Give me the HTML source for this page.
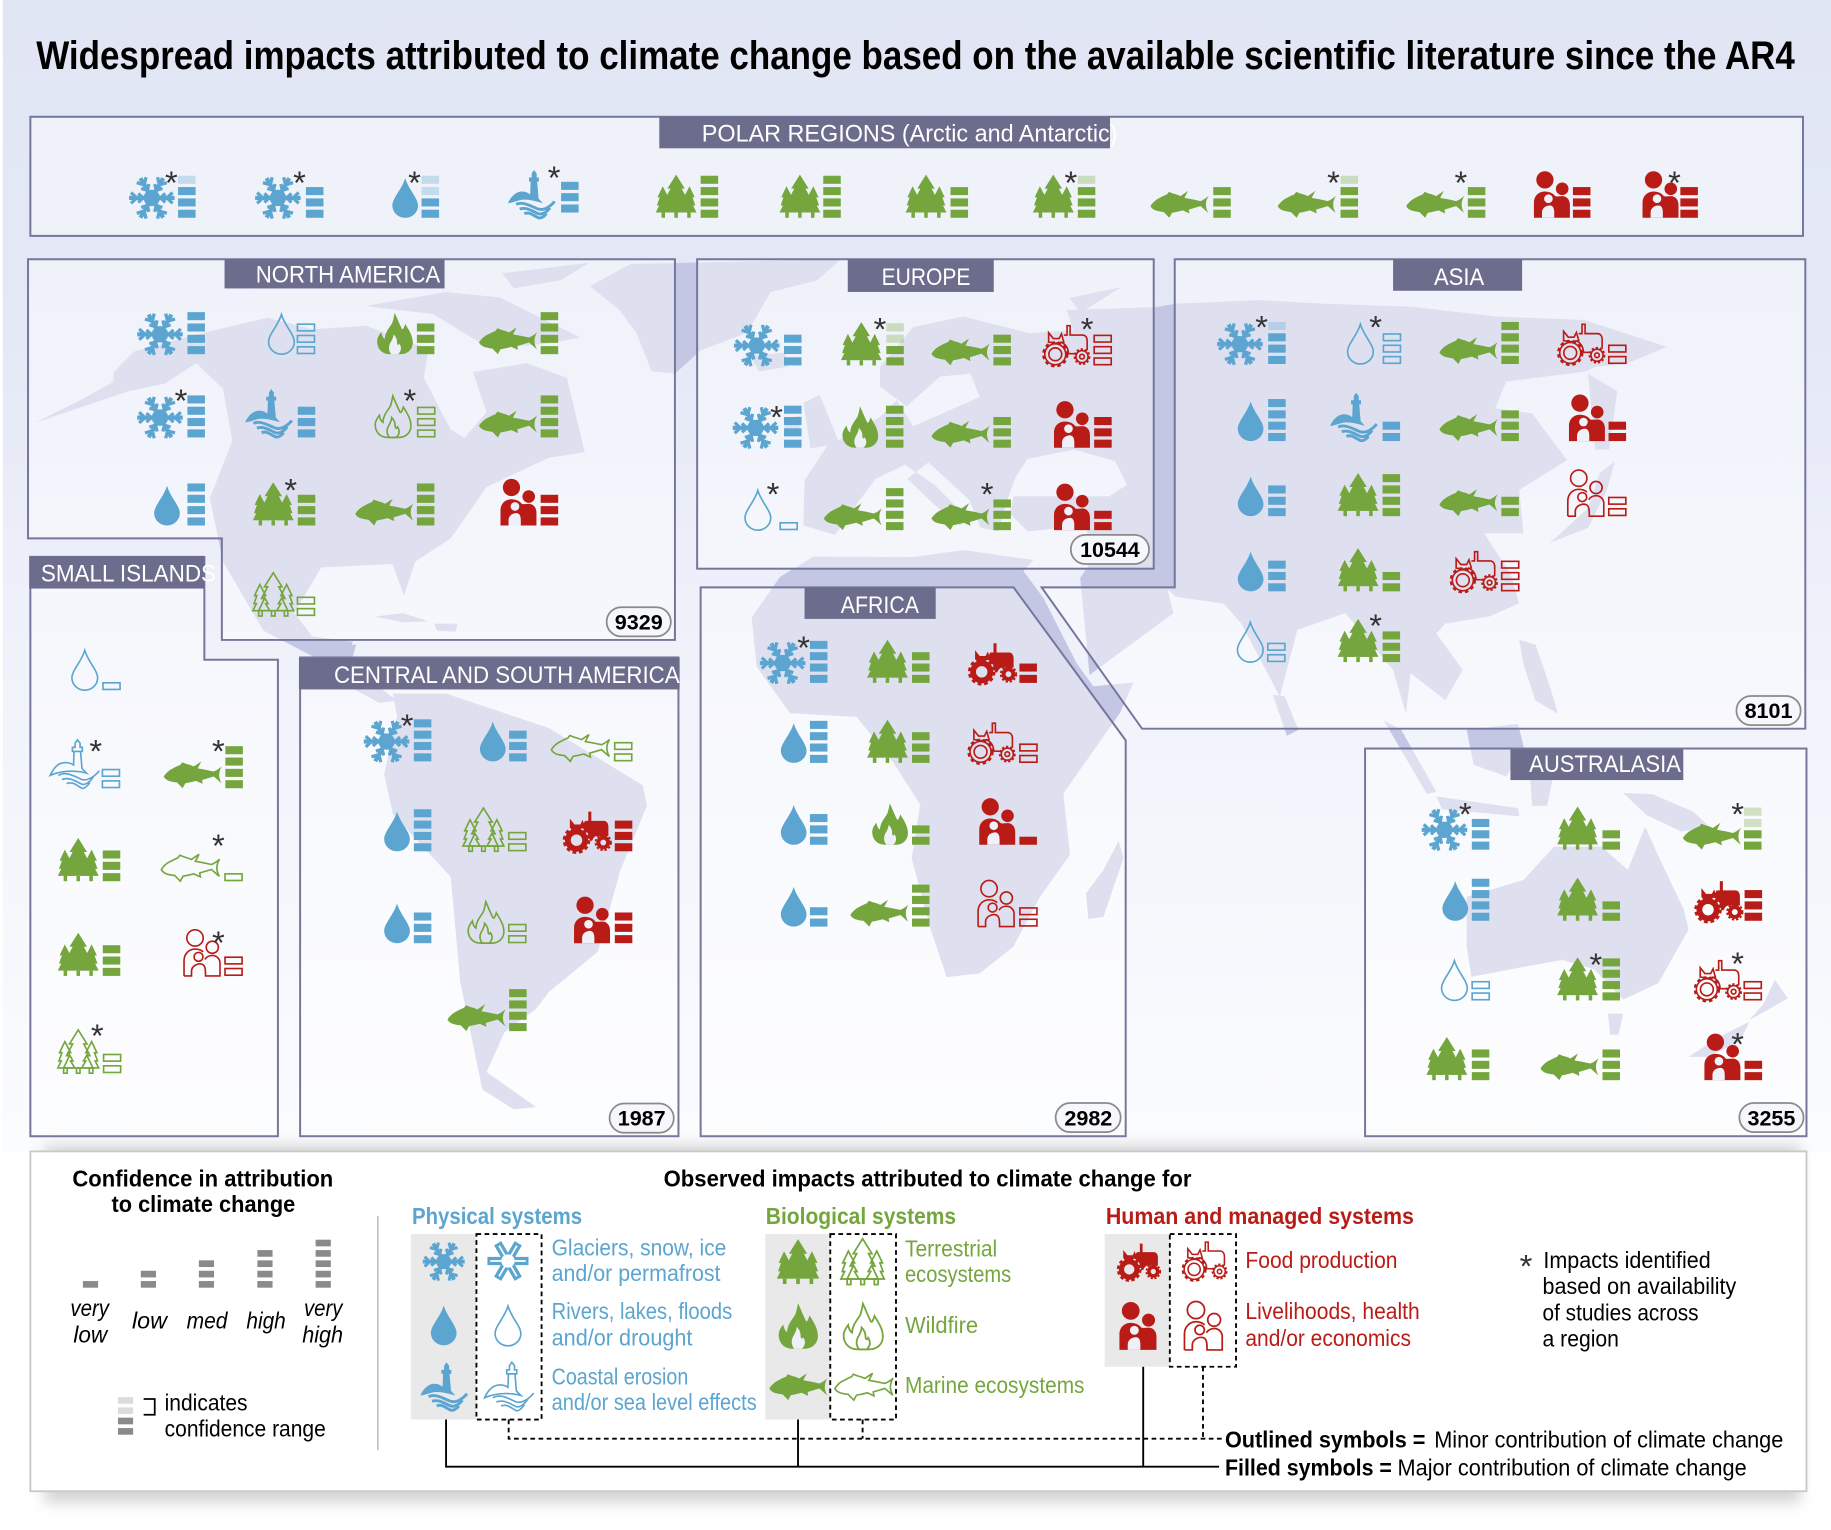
<!DOCTYPE html>
<html lang="en"><head><meta charset="utf-8"><title>Widespread impacts attributed to climate change</title>
<style>
html,body{margin:0;padding:0;background:#fff}
svg{display:block}
text{font-family:"Liberation Sans",Arial,sans-serif}
.b{color:#5ba5d0}.g{color:#74a63d}.r{color:#b91c17}
.f{fill:currentColor;stroke:none}
.o{fill:none;stroke:currentColor;stroke-width:1.4}
.h{fill:#fff;font-size:20.5px}
.s{font-size:28px;fill:#333;text-anchor:middle}
.n{font-size:18px;font-weight:bold;fill:#000}
.t{font-size:20px;fill:#000}
.tb{font-size:20px;font-weight:bold;fill:#000}
.i{font-size:20px;font-style:italic;fill:#000}
</style></head><body>
<svg xmlns="http://www.w3.org/2000/svg" width="1831" height="1530" viewBox="0 0 1568 1310.2" preserveAspectRatio="none">
<defs>
<linearGradient id="bg" x1="0" y1="0" x2="0" y2="1"><stop offset="0" stop-color="#e1e6f4"/><stop offset=".3" stop-color="#e5e9f7"/><stop offset=".6" stop-color="#f1f3fb"/><stop offset="1" stop-color="#fbfcfe"/></linearGradient>
<filter id="bl" x="-5%" y="-20%" width="110%" height="140%"><feGaussianBlur stdDeviation="6"/></filter>
<clipPath id="mc"><rect x="0" y="222" width="1568" height="760"/></clipPath>
<g id="arm"><path d="M0,0V-19.5" stroke-width="3.6" stroke="currentColor" fill="none"/><path d="M-4.6,-17.8L0,-13L4.6,-17.8M-3.8,-11.6L0,-7.5L3.8,-11.6" stroke-width="2.8" stroke="currentColor" fill="none"/></g>
<g id="snow"><g transform="translate(0,-17)"><g transform="rotate(90)"><use href="#arm"/></g><g transform="rotate(30)"><use href="#arm"/></g><g transform="rotate(150)"><use href="#arm"/></g><g transform="rotate(210)"><use href="#arm"/></g><g transform="rotate(270)"><use href="#arm"/></g><g transform="rotate(330)"><use href="#arm"/></g><circle r="7" fill="currentColor"/></g></g>
<g id="snowo"><g transform="translate(0,-17)"><path d="M-18.5,0H18.5M-9.3,-16L9.3,16M-9.3,16L9.3,-16" stroke="currentColor" stroke-width="7.5" fill="none"/><path d="M-16,0H16M-8,-13.8L8,13.8M-8,13.8L8,-13.8" stroke="#fff" stroke-width="1.6" fill="none"/><circle r="6" fill="#fff"/></g></g>
<path id="drop" d="M0,-34C3,-24 11,-17 11,-10.5A11,10.5 0 0 1 -11,-10.5C-11,-17 -3,-24 0,-34Z"/>
<g id="tree"><polygon points="0,-37 7.5,-25 4.8,-25 10,-15 7.5,-15 12.5,-4.5 -12.5,-4.5 -7.5,-15 -10,-15 -4.8,-25 -7.5,-25"/><polygon points="-11.5,-27 -6.5,-17.5 -8.5,-17.5 -4.5,-10.5 -6.5,-10.5 -3,-4.5 -17.5,-4.5 -14.5,-10.5 -16.5,-10.5 -14,-17.5 -16,-17.5"/><polygon points="11.5,-27 16,-17.5 14,-17.5 16.5,-10.5 14.5,-10.5 17.5,-4.5 3,-4.5 6.5,-10.5 4.5,-10.5 8.5,-17.5 6.5,-17.5"/><rect x="-12.5" y="-4.5" width="3" height="4.5"/><rect x="-1.5" y="-4.5" width="3" height="4.5"/><rect x="9.5" y="-4.5" width="3" height="4.5"/></g>
<path id="fish" d="M-24.8,-10C-23,-13 -20,-15.5 -17.7,-16.6C-15,-18 -12.5,-19.3 -10.6,-20L-9,-22.2 -4.9,-20.6C-2,-20 -.5,-19.2 .9,-18.6L7.4,-23 4.3,-17C9,-16.2 14,-15.2 18,-14.3C20.5,-15.2 23,-17 25,-18.8C22,-14 22,-9 24.8,-4.2C22.5,-6 20,-8.5 18,-10C14.5,-9 11.5,-8 8,-7L8.6,-3.7 2.9,-6.3C-.5,-5.3 -3.5,-4.7 -6.3,-4.3L-8.6,0 -13.4,-4.9C-16,-5.2 -18.5,-5.6 -20.5,-6.3C-22.5,-7.2 -24,-8.3 -24.8,-10Z"/>
<g id="lh"><path fill="currentColor" stroke="none" d="M-20,-13C-17,-20 -12,-23 -8,-23C-4.5,-23 -2.5,-21.5 -1,-20.5L-.6,-31.5H-2V-35H.3V-38.5L2.3,-41.4 4.6,-38.5V-35H6.5V-31.5H5L6.2,-17C7.5,-15.5 9,-14.2 10,-13C3,-15 -5,-17 -10,-15.5C-14,-14.5 -17,-13 -20,-13Z"/><path fill="none" stroke="currentColor" stroke-width="2.5" d="M-13,-12C-7,-15 0,-10 6,-8C11,-6.5 16,-10 20,-14.5M-10,-8C-4,-10 1,-6 6,-4C9,-3 13,-5 16,-9M-6,-4C-1,-6 2,-2 6,-.5C8,.3 11,-1.5 13,-4"/></g>
<g id="lho" fill="none" stroke="currentColor" stroke-width="1.4"><path d="M-21,-11C-17,-20 -12,-22 -8,-22C-4.5,-22 -2.5,-21 -1,-20L-.6,-31.5H-2V-35H.3V-38.5L2.3,-41.4 4.6,-38.5V-35H6.5V-31.5H5L6.2,-17C7.5,-15.5 9,-14 10,-13C3,-15 -10,-16 -21,-11ZM-2,-31.5H6.5"/><path d="M-14,-11C-7,-15 0,-10 6,-7.5C11,-6 17,-10 21,-15M-11,-7.5C-4,-10 1,-5.5 6,-3.5C9,-2.5 13,-5 16,-10M-7,-4C-1,-6 2,-2 6,0C8,.8 11,-2 13,-5"/></g>
<g id="pf"><circle cx="-6" cy="-32.5" r="7.4" fill="currentColor"/><circle cx="8.8" cy="-24.8" r="5.4" fill="currentColor"/><path fill="currentColor" d="M-15.4,0V-13C-15.4,-19 -11,-22.5 -6,-22.5C-2,-22.5 1,-21 3,-18.4C5,-18 7,-18.5 9,-18.5C13,-18.5 15.4,-15 15.4,-11V0Z"/><circle cx="-3" cy="-16.3" r="3.7" fill="#eef1fa"/><path fill="#eef1fa" d="M-8.5,0V-4.5C-8.5,-9 -4,-11 -1,-10.5C1.5,-10 2,-7 2,-4V0Z"/></g>
<g id="po" fill="none" stroke="currentColor" stroke-width="1.4"><circle cx="-6" cy="-32.5" r="7"/><circle cx="8.8" cy="-24.5" r="5.2"/><circle cx="-3" cy="-16.3" r="3.8"/><path d="M-15.4,0H-9V-4C-9,-9 -3,-11 0,-10C3,-9 3,-5 3,0H15.4V-11C15.4,-15 12,-17.5 9,-17.5C6,-17.5 3.5,-16 2.5,-14M-15.4,0V-13C-15.4,-19 -11,-23 -6,-23C-3,-23 -.5,-22 1,-20.5"/></g>
<g id="tf"><circle cx="-8.3" cy="-9.5" r="7.4" fill="none" stroke="currentColor" stroke-width="5"/><circle cx="-8.3" cy="-9.5" r="10.6" fill="none" stroke="currentColor" stroke-width="2.4" stroke-dasharray="3.2 2.4"/><circle cx="14.6" cy="-7.5" r="4.2" fill="none" stroke="currentColor" stroke-width="3.4"/><circle cx="14.6" cy="-7.5" r="6.6" fill="none" stroke="currentColor" stroke-width="1.6" stroke-dasharray="2 1.6"/><path fill="currentColor" d="M-1,-26H1.8V-34H4.4V-26H15C17.5,-26 19,-24 19,-21V-13H9C7,-13 6,-11 5,-9H3C3,-14 0,-19 -4,-20ZM-14,-28L-10,-23H-5L-3,-27 -1,-20 -8,-19 -14,-20Z"/></g>
<g id="to" fill="none" stroke="currentColor" stroke-width="1.4"><circle cx="-8.3" cy="-9.5" r="5.5"/><circle cx="-8.3" cy="-9.5" r="9"/><circle cx="-8.3" cy="-9.5" r="10.3" stroke-width="2" stroke-dasharray="3 2.6"/><circle cx="14.6" cy="-7.5" r="2"/><circle cx="14.6" cy="-7.5" r="5.2"/><circle cx="14.6" cy="-7.5" r="6.4" stroke-width="1.6" stroke-dasharray="2 1.6"/><path d="M-1,-26H1.8V-34H4.4V-26H15C17.5,-26 19,-24 19,-21V-13M3,-10H8M-4,-20C0,-19 3,-15 3,-10M-14,-28L-10,-23H-5L-3,-27 -1,-20 -8,-19 -14,-20Z"/></g>
<path id="flo" d="M-4,0C-12,0 -15.5,-6 -15,-12C-14.5,-15 -13,-17 -11.5,-19C-11,-16 -10,-14 -8.5,-13C-8,-20 -4,-23 -2,-27C-1,-30 -.5,-33 0,-35.5C2,-31 4,-26 6,-22C7,-20 8,-23 9,-26C12,-21 15.5,-16 15.5,-10C15.5,-4 11,0 5,0Z"/>
<path id="fli" d="M-3,0C-6,-4 -5,-8 -3,-11C-2,-13 -1,-15 -1,-17C1,-15 2,-13 2,-10C2,-8 3,-7 4,-9C6,-6 6,-3 3,0Z"/>
<g id="fl"><use href="#flo" fill="currentColor"/><use href="#fli" fill="#eef1fa"/></g>
<g id="flx" fill="none" stroke="currentColor" stroke-width="1.4"><use href="#flo"/><use href="#fli"/></g>
<g id="f1"><rect y="-6.9" width="15" height="6.9"/></g>
<g id="f2"><use href="#f1"/><rect y="-16.6" width="15" height="6.9"/></g>
<g id="f3"><use href="#f2"/><rect y="-26.3" width="15" height="6.9"/></g>
<g id="f4"><use href="#f3"/><rect y="-36" width="15" height="6.9"/></g>
<g id="f41"><use href="#f3"/><rect y="-36" width="15" height="6.9" fill-opacity=".3"/></g>
<g id="f42"><use href="#f2"/><rect y="-26.3" width="15" height="6.9" fill-opacity=".3"/><rect y="-36" width="15" height="6.9" fill-opacity=".3"/></g>
<g id="o1"><rect x=".7" y="-6.3" width="14.6" height="5.7"/></g>
<g id="o2"><use href="#o1"/><rect x=".7" y="-16" width="14.6" height="5.7"/></g>
<g id="o3"><use href="#o2"/><rect x=".7" y="-25.7" width="14.6" height="5.7"/></g>
<g id="gb"><rect width="13" height="5.7"/></g>
</defs>

<rect width="1568" height="1310.2" fill="#fff"/>
<rect x="2.4" y="0" width="1565.6" height="986" fill="url(#bg)"/>

<!-- map -->
<g clip-path="url(#mc)" fill="#c3c7e4">
<polygon points="97.5,318.6 114.7,301 168,286.6 229,272 268,282 313.5,279 367,299 363,323.5 386,368 397.6,375 416.7,353 405,318.6 451,311 485.5,323.5 500.8,387.4 470,392 416.7,417 386,461 355.5,481 346,510 336,483 275,486 252,525 267.6,545 302,549.6 298,564 267.6,562 225.5,540 191,481 179.7,426.7 198.8,377.6 191,333 168,311 141.5,328.4 110,335 60,352 30,362 70,342 97,327"/>
<polygon points="313,262 382,250 428,254.7 497,289 470,294 420,299 371,269"/>
<polygon points="505,245 540,226 720,222 700,240 660,250 640,285 600,300 578,320 558,318 545,285 530,265"/>
<polygon points="430,234 505,225 480,240 440,247"/>
<polygon points="321,528 345,525 367,532 345,533"/><polygon points="372,534 392,534 390,541 374,540"/>
<polygon points="336.4,594 382,594 470,623.4 550.5,672.5 554,690 531,746 512,815 470,849.5 459,864 432,884 416.7,918 459,948 440,950 413,933 394,840 386,751 336.4,697 329,663 340,613.5"/>
<polygon points="267,555 305,552 300,570 340,600 325,602 270,572"/>
<polygon points="689,411 688,450 715,458 735,430 750,410 775,398 800,415 830,445 822,450 800,432 777,410 795,396 830,428 840,452 855,455 862,430 870,408 880,393 920,385 955,395 965,415 950,425 900,425 868,425 865,440 880,455 930,450 935,480 925,495 933,578 1005,525 1000,505 1007,511 1048,517 1063,534 1096,596.6 1111,539.5 1152,525 1193,573.8 1204,611 1208,576.6 1237.7,599.5 1252.6,573.8 1230,542.4 1237.7,534 1275,528 1301,516.7 1293.5,491 1271,456.7 1304.6,456.7 1301,419.6 1342,394 1312,354 1280.5,349.7 1289.8,326.8 1356.7,318.3 1367.8,314 1394,311 1427.4,297 1356.7,274 1282,271 1208,262.6 1133.6,260 1077.8,257 1007,260 990,263 913.5,265.5 919,282.6 882,285.4 825,271 782,280 753.6,314 753.6,331 776.4,348 805,322.5 831,320 839,340 782,365 768,342.5 753.6,357 708,382.5"/>
<polygon points="688,345 702,338 719,380 694,384"/><polygon points="672,358 686,356 684,372 672,372"/>
<polygon points="916,255 960,246 925,268"/><polygon points="642,305 672,302 675,314 650,318"/><polygon points="780,232 815,228 810,240 785,240"/>
<polygon points="1360,320 1385,335 1378,385 1366,385"/><polygon points="1383,395 1376,420 1360,452 1327,465 1335,458 1360,435 1370,405"/>
<polygon points="1301,548 1315,552 1328,590 1334,611 1315,600 1305,570"/><polygon points="1090,595 1100,596 1112,625 1102,630"/>
<polygon points="1185,617 1200,625 1230,678 1222,680"/><polygon points="1256,625 1300,620 1305,640 1290,665 1262,655"/><polygon points="1230,682 1300,692 1301,699 1235,693"/><polygon points="1310,660 1330,665 1325,690 1312,690"/>
<polygon points="1390,679 1415,680 1450,695 1464,708 1440,712 1410,698"/>
<polygon points="1256,768 1304.6,753.6 1330.7,725 1371.6,725 1394,745 1408.8,708 1421.8,736.5 1442,779 1446,796 1420,842 1390,856 1365,830 1338,822 1304.6,828 1260,836.4 1256,810.7"/>
<polygon points="1377,868 1390,868 1386,886 1379,886"/>
<polygon points="1520,839 1531,855 1498,873.6 1510,860"/><polygon points="1446,905 1472,888 1498,875 1490,892 1462,905"/>
<polygon points="643.7,528.8 648,571 676.5,610.7 733.6,614 765,653 788,689 780.7,735 796.4,794 810.7,836.8 839,833.5 867.8,810.6 890.6,768 916.3,732 910.6,679.5 959,610.7 970.6,584.5 936.3,587.7 922,568 893.5,512 876.4,489 885,479.6 825,471 782,477 696.5,476.7 668,494"/>
<polygon points="958,720 962,735 945,785 932,787 930,765 945,745"/>
</g>

<!-- panels -->
<g fill="#fff" fill-opacity=".45" stroke="#75769b" stroke-width="1.7">
<rect x="26" y="100" width="1518" height="102"/>
<path d="M24,222H578V548H190V461H24Z"/>
<path d="M26,477H175V565H238V973H26Z"/>
<rect x="257" y="563" width="324" height="410"/>
<rect x="597" y="222" width="391" height="265"/>
<path d="M1006,222H1546V624H978L892,503H1006Z"/>
<path d="M600,503H868L964,634V973H600Z"/>
<rect x="1169" y="641" width="378" height="332"/>
</g>
<!-- headers -->
<g fill="#6c6c8c">
<rect x="564.6" y="100" width="386" height="27"/>
<rect x="192.3" y="222" width="188.4" height="25"/>
<rect x="25" y="476" width="150" height="28"/>
<rect x="256" y="563.4" width="326" height="27"/>
<rect x="726" y="222" width="125" height="28"/>
<rect x="689" y="503" width="112.3" height="27"/>
<rect x="1193" y="222" width="110.5" height="27"/>
<rect x="1293.5" y="641.7" width="148" height="26.3"/>
</g>
<text class="h" x="601" y="121" textLength="356" lengthAdjust="spacingAndGlyphs">POLAR REGIONS (Arctic and Antarctic)</text>
<text class="h" x="219" y="242" textLength="158" lengthAdjust="spacingAndGlyphs">NORTH AMERICA</text>
<text class="h" x="35" y="498" textLength="150" lengthAdjust="spacingAndGlyphs">SMALL ISLANDS</text>
<text class="h" x="286" y="585" textLength="296" lengthAdjust="spacingAndGlyphs">CENTRAL AND SOUTH AMERICA</text>
<text class="h" x="755" y="244" textLength="76" lengthAdjust="spacingAndGlyphs">EUROPE</text>
<text class="h" x="720" y="525" textLength="67" lengthAdjust="spacingAndGlyphs">AFRICA</text>
<text class="h" x="1228" y="244" textLength="43" lengthAdjust="spacingAndGlyphs">ASIA</text>
<text class="h" x="1309.5" y="661" textLength="130" lengthAdjust="spacingAndGlyphs">AUSTRALASIA</text>

<!-- count pills -->
<g fill="#f6f7fc" stroke="#8a8a8a" stroke-width="1.5">
<rect x="519.5" y="520" width="55" height="25" rx="12.5"/>
<rect x="917" y="458" width="67" height="25" rx="12.5"/>
<rect x="1487" y="596" width="55" height="25" rx="12.5"/>
<rect x="522" y="945" width="55" height="25" rx="12.5"/>
<rect x="904" y="944.5" width="55.7" height="25" rx="12.5"/>
<rect x="1489.5" y="944.5" width="55" height="25" rx="12.5"/>
</g>
<text class="n" x="526.5" y="539" textLength="41" lengthAdjust="spacingAndGlyphs">9329</text>
<text class="n" x="925" y="477" textLength="51" lengthAdjust="spacingAndGlyphs">10544</text>
<text class="n" x="1494" y="615" textLength="41" lengthAdjust="spacingAndGlyphs">8101</text>
<text class="n" x="529" y="964" textLength="41" lengthAdjust="spacingAndGlyphs">1987</text>
<text class="n" x="911.5" y="964" textLength="41" lengthAdjust="spacingAndGlyphs">2982</text>
<text class="n" x="1496.5" y="964" textLength="41" lengthAdjust="spacingAndGlyphs">3255</text>

<!-- title -->
<text x="31" y="59" font-size="34" font-weight="bold" fill="#000" textLength="1506" lengthAdjust="spacingAndGlyphs">Widespread impacts attributed to climate change based on the available scientific literature since the AR4</text>

<!-- blue icons and bars -->
<g class="b">
<g class="f">
<use href="#snow" x="130" y="186.5"/><use href="#f41" x="152.5" y="186.5"/>
<use href="#snow" x="238" y="186.5"/><use href="#f3" x="262" y="186.5"/>
<use href="#drop" x="347" y="186.5"/><use href="#f42" x="361" y="186.5"/>
<use href="#lh" x="455" y="187"/><use href="#f3" x="480.5" y="182"/>
<use href="#snow" x="137" y="303.3"/><use href="#f4" x="160.5" y="303.3"/>
<use href="#snow" x="137" y="374.6"/><use href="#f4" x="160.5" y="374.6"/>
<use href="#lh" x="230" y="374.6"/><use href="#f3" x="255" y="374.6"/>
<use href="#drop" x="143" y="450"/><use href="#f4" x="160.5" y="450"/>
<use href="#snow" x="331" y="652"/><use href="#f4" x="354.4" y="652"/>
<use href="#drop" x="422" y="652"/><use href="#f3" x="436" y="652"/>
<use href="#drop" x="340" y="729"/><use href="#f4" x="354.4" y="729"/>
<use href="#drop" x="340" y="807.7"/><use href="#f3" x="354.4" y="807.7"/>
<use href="#snow" x="648" y="312.9"/><use href="#f3" x="671.4" y="312.9"/>
<use href="#snow" x="647" y="383.4"/><use href="#f4" x="671.4" y="383.4"/>
<use href="#snow" x="1061.8" y="311.7"/><use href="#f41" x="1086" y="311.7"/>
<use href="#drop" x="1071" y="377.7"/><use href="#f4" x="1086" y="377.7"/>
<use href="#lh" x="1159" y="377.7"/><use href="#f2" x="1184" y="377.7"/>
<use href="#drop" x="1071" y="442"/><use href="#f3" x="1086" y="442"/>
<use href="#drop" x="1071" y="506.4"/><use href="#f3" x="1086" y="506.4"/>
<use href="#snow" x="670.2" y="584.8"/><use href="#f4" x="693.6" y="584.8"/>
<use href="#drop" x="679.7" y="653.3"/><use href="#f4" x="693.6" y="653.3"/>
<use href="#drop" x="679.7" y="723.4"/><use href="#f3" x="693.6" y="723.4"/>
<use href="#drop" x="679.7" y="793.5"/><use href="#f2" x="693.6" y="793.5"/>
<use href="#snow" x="1237" y="727.6"/><use href="#f3" x="1260.4" y="727.6"/>
<use href="#drop" x="1246.2" y="788.5"/><use href="#f4" x="1260.4" y="788.5"/>
</g>
<g class="o">
<use href="#drop" x="241" y="303.3"/><use href="#o3" x="254" y="303.3"/>
<use href="#drop" x="72.6" y="591"/><use href="#o1" x="87.5" y="591"/>
<use href="#lho" x="64" y="675"/><use href="#o2" x="87" y="675"/>
<use href="#drop" x="649" y="454"/><use href="#o1" x="667.4" y="454"/>
<use href="#drop" x="1165" y="311.7"/><use href="#o3" x="1184" y="311.7"/>
<use href="#drop" x="1070.7" y="567"/><use href="#o2" x="1085" y="567"/>
<use href="#drop" x="1245.5" y="856.7"/><use href="#o2" x="1260" y="856.7"/>
</g>
</g>

<!-- green icons and bars -->
<g class="g">
<g class="f">
<use href="#tree" x="579" y="186.5"/><use href="#f4" x="600" y="186.5"/>
<use href="#tree" x="685" y="186.5"/><use href="#f4" x="705" y="186.5"/>
<use href="#tree" x="793" y="186.5"/><use href="#f3" x="814" y="186.5"/>
<use href="#tree" x="902" y="186.5"/><use href="#f41" x="923" y="186.5"/>
<use href="#fish" x="1010" y="186.5"/><use href="#f3" x="1039" y="186.5"/>
<use href="#fish" x="1119" y="186.5"/><use href="#f41" x="1148" y="186.5"/>
<use href="#fish" x="1229" y="186.5"/><use href="#f3" x="1257" y="186.5"/>
<use href="#fl" x="338" y="303.3"/><use href="#f3" x="357" y="303.3"/>
<use href="#fish" x="435" y="303.3"/><use href="#f4" x="463" y="303.3"/>
<use href="#fish" x="435" y="374.6"/><use href="#f4" x="463" y="374.6"/>
<use href="#tree" x="234" y="450"/><use href="#f3" x="255" y="450"/>
<use href="#fish" x="329" y="450"/><use href="#f4" x="357" y="450"/>
<use href="#fish" x="165" y="675"/><use href="#f4" x="193" y="675"/>
<use href="#tree" x="67" y="754.6"/><use href="#f3" x="88" y="754.6"/>
<use href="#tree" x="67" y="835.7"/><use href="#f3" x="88" y="835.7"/>
<use href="#fish" x="408" y="883"/><use href="#f4" x="436" y="883"/>
<use href="#tree" x="737.6" y="312.9"/><use href="#f42" x="759" y="312.9"/>
<use href="#fish" x="822.5" y="312.9"/><use href="#f3" x="850.7" y="312.9"/>
<use href="#fl" x="736.5" y="383.4"/><use href="#f4" x="758.7" y="383.4"/>
<use href="#fish" x="822.5" y="383.4"/><use href="#f3" x="850.7" y="383.4"/>
<use href="#fish" x="730.3" y="454"/><use href="#f4" x="758.7" y="454"/>
<use href="#fish" x="822.5" y="454"/><use href="#f3" x="850.7" y="454"/>
<use href="#fish" x="1257.5" y="311.7"/><use href="#f4" x="1285.7" y="311.7"/>
<use href="#fish" x="1257.5" y="377.7"/><use href="#f3" x="1285.7" y="377.7"/>
<use href="#tree" x="1163" y="442"/><use href="#f4" x="1184" y="442"/>
<use href="#fish" x="1257.5" y="442"/><use href="#f2" x="1285.7" y="442"/>
<use href="#tree" x="1163" y="506.4"/><use href="#f2" x="1184" y="506.4"/>
<use href="#tree" x="1163" y="567"/><use href="#f3" x="1184" y="567"/>
<use href="#tree" x="760" y="584.8"/><use href="#f3" x="781" y="584.8"/>
<use href="#tree" x="760" y="653.3"/><use href="#f3" x="781" y="653.3"/>
<use href="#fl" x="762" y="723.4"/><use href="#f2" x="781" y="723.4"/>
<use href="#fish" x="753" y="793.5"/><use href="#f4" x="781" y="793.5"/>
<use href="#tree" x="1351" y="727.6"/><use href="#f2" x="1372.3" y="727.6"/>
<use href="#fish" x="1466" y="727.6"/><use href="#f42" x="1493.5" y="727.6"/>
<use href="#tree" x="1351" y="788.5"/><use href="#f2" x="1372.3" y="788.5"/>
<use href="#tree" x="1351" y="856.7"/><use href="#f4" x="1372.3" y="856.7"/>
<use href="#tree" x="1239" y="925"/><use href="#f3" x="1260.4" y="925"/>
<use href="#fish" x="1344" y="925"/><use href="#f3" x="1372.3" y="925"/>
</g>
<g class="o">
<use href="#flx" x="336.4" y="374.6"/><use href="#o3" x="357" y="374.6"/>
<use href="#tree" x="234" y="527.5"/><use href="#o2" x="254" y="527.5"/>
<use href="#fish" x="163" y="754.6"/><use href="#o1" x="192" y="754.6"/>
<use href="#tree" x="67" y="919"/><use href="#o2" x="88" y="919"/>
<use href="#fish" x="497" y="652"/><use href="#o2" x="525.7" y="652"/>
<use href="#tree" x="414" y="729"/><use href="#o2" x="435" y="729"/>
<use href="#flx" x="416" y="807.7"/><use href="#o2" x="435" y="807.7"/>
</g>
</g>

<!-- red icons and bars -->
<g class="r">
<g class="f">
<use href="#pf" x="1329" y="186.5"/><use href="#f3" x="1347" y="186.5"/>
<use href="#pf" x="1422" y="186.5"/><use href="#f3" x="1439" y="186.5"/>
<use href="#pf" x="444" y="450"/><use href="#f3" x="463" y="450"/>
<use href="#tf" x="502" y="729"/><use href="#f3" x="526.5" y="729"/>
<use href="#pf" x="507" y="807.7"/><use href="#f3" x="526.5" y="807.7"/>
<use href="#pf" x="918" y="383.4"/><use href="#f3" x="937" y="383.4"/>
<use href="#pf" x="918" y="454"/><use href="#f2" x="937" y="454"/>
<use href="#pf" x="1359" y="377.7"/><use href="#f2" x="1377.5" y="377.7"/>
<use href="#tf" x="849" y="584.8"/><use href="#f2" x="873" y="584.8"/>
<use href="#pf" x="854" y="723.4"/><use href="#f1" x="873" y="723.4"/>
<use href="#tf" x="1471" y="788.5"/><use href="#f3" x="1494" y="788.5"/>
<use href="#pf" x="1475" y="925"/><use href="#f2" x="1494" y="925"/>
</g>
<g class="o">
<use href="#po" x="173" y="835.7"/><use href="#o2" x="192" y="835.7"/>
<use href="#to" x="912" y="312.9"/><use href="#o3" x="936.3" y="312.9"/>
<use href="#to" x="1353" y="311.7"/><use href="#o2" x="1377" y="311.7"/>
<use href="#po" x="1358" y="442"/><use href="#o2" x="1377" y="442"/>
<use href="#to" x="1261" y="506.4"/><use href="#o3" x="1285.3" y="506.4"/>
<use href="#to" x="848" y="653.3"/><use href="#o2" x="872.7" y="653.3"/>
<use href="#po" x="853" y="793.5"/><use href="#o2" x="872.7" y="793.5"/>
<use href="#to" x="1470" y="856.7"/><use href="#o2" x="1493" y="856.7"/>
</g>
</g>

<!-- asterisks -->
<g>
<text class="s" x="146.8" y="166">*</text><text class="s" x="256.5" y="166">*</text><text class="s" x="355" y="166">*</text><text class="s" x="474.5" y="162">*</text><text class="s" x="917" y="166">*</text><text class="s" x="1142" y="166">*</text><text class="s" x="1251" y="166">*</text><text class="s" x="1434" y="166">*</text>
<text class="s" x="155" y="353">*</text><text class="s" x="351" y="353">*</text><text class="s" x="249" y="429.5">*</text>
<text class="s" x="82" y="653">*</text><text class="s" x="187" y="653">*</text><text class="s" x="187" y="734">*</text><text class="s" x="187" y="817">*</text><text class="s" x="83.3" y="896.5">*</text>
<text class="s" x="348.7" y="631">*</text>
<text class="s" x="753.6" y="291.7">*</text><text class="s" x="931" y="291.7">*</text><text class="s" x="665" y="367">*</text><text class="s" x="662" y="433">*</text><text class="s" x="845.3" y="433">*</text>
<text class="s" x="1080.4" y="290">*</text><text class="s" x="1178" y="290">*</text><text class="s" x="1178" y="545.5">*</text>
<text class="s" x="688.2" y="564.4">*</text>
<text class="s" x="1254.8" y="706.8">*</text><text class="s" x="1488" y="706.8">*</text><text class="s" x="1366.7" y="836">*</text><text class="s" x="1488" y="834.8">*</text><text class="s" x="1488" y="903.8">*</text>
</g>

<!-- legend panel -->
<rect x="38" y="981" width="1504" height="306" fill="#aaa" fill-opacity=".5" filter="url(#bl)"/>
<rect x="26" y="986" width="1521" height="291" fill="#fff" stroke="#c9c9c9" stroke-width="1.6"/>
<line x1="323.6" y1="1041.4" x2="323.6" y2="1241.8" stroke="#bbb" stroke-width="1.3"/>

<text class="tb" x="62" y="1016" textLength="223.4" lengthAdjust="spacingAndGlyphs">Confidence in attribution</text>
<text class="tb" x="95.5" y="1038" textLength="157.3" lengthAdjust="spacingAndGlyphs">to climate change</text>
<text class="tb" x="568.3" y="1016" textLength="452" lengthAdjust="spacingAndGlyphs">Observed impacts attributed to climate change for</text>
<text class="tb" style="fill:#5ba5d0" x="352.8" y="1048" textLength="145.7" lengthAdjust="spacingAndGlyphs">Physical systems</text>
<text class="tb" style="fill:#74a63d" x="655.8" y="1048" textLength="163" lengthAdjust="spacingAndGlyphs">Biological systems</text>
<text class="tb" style="fill:#b91c17" x="947" y="1048" textLength="263.8" lengthAdjust="spacingAndGlyphs">Human and managed systems</text>

<!-- confidence bars -->
<g fill="#8a8a8a">
<use href="#gb" x="71" y="1097"/>
<use href="#gb" x="120.6" y="1097"/><use href="#gb" x="120.6" y="1088.2"/>
<use href="#gb" x="170.3" y="1097"/><use href="#gb" x="170.3" y="1088.2"/><use href="#gb" x="170.3" y="1079.3"/>
<use href="#gb" x="220.4" y="1097"/><use href="#gb" x="220.4" y="1088.2"/><use href="#gb" x="220.4" y="1079.3"/><use href="#gb" x="220.4" y="1070.5"/>
<use href="#gb" x="270.3" y="1097"/><use href="#gb" x="270.3" y="1088.2"/><use href="#gb" x="270.3" y="1079.3"/><use href="#gb" x="270.3" y="1070.5"/><use href="#gb" x="270.3" y="1061.6"/>
<use href="#gb" x="101" y="1214"/><use href="#gb" x="101" y="1222.9"/>
<use href="#gb" x="101" y="1196.4" fill="#dcdcdc"/><use href="#gb" x="101" y="1205.2" fill="#dcdcdc"/>
</g>
<path d="M123,1198H132.5V1211.5H123" fill="none" stroke="#000" stroke-width="1.5"/>
<text class="i" x="60.3" y="1127" textLength="33" lengthAdjust="spacingAndGlyphs">very</text>
<text class="i" x="62.8" y="1149.6" textLength="29" lengthAdjust="spacingAndGlyphs">low</text>
<text class="i" x="113" y="1137.6" textLength="30" lengthAdjust="spacingAndGlyphs">low</text>
<text class="i" x="159.8" y="1137.6" textLength="35" lengthAdjust="spacingAndGlyphs">med</text>
<text class="i" x="211" y="1137.6" textLength="33.7" lengthAdjust="spacingAndGlyphs">high</text>
<text class="i" x="260.3" y="1127" textLength="33" lengthAdjust="spacingAndGlyphs">very</text>
<text class="i" x="258.8" y="1149.6" textLength="35" lengthAdjust="spacingAndGlyphs">high</text>
<text class="t" x="141" y="1208" textLength="71" lengthAdjust="spacingAndGlyphs">indicates</text>
<text class="t" x="141" y="1230" textLength="138" lengthAdjust="spacingAndGlyphs">confidence range</text>

<g fill="#e9e9ea">
<rect x="351.8" y="1056.8" width="56.2" height="158.8"/>
<rect x="655.3" y="1056.8" width="55.7" height="158.8"/>
<rect x="946" y="1056.8" width="55.8" height="113.6"/>
</g>
<g class="f">
<use class="b" href="#snow" transform="translate(380,1096) scale(.92)"/>
<use class="b" href="#drop" x="380" y="1152"/>
<use class="b" href="#lh" x="380" y="1208"/>
<use class="g" href="#tree" transform="translate(683.4,1099.6) scale(1.04)"/>
<use class="g" href="#fl" transform="translate(683.4,1155) scale(1.1)"/>
<use class="g" href="#fish" x="683.6" y="1199"/>
<use class="r" href="#tf" transform="translate(974.5,1095.6) scale(.9)"/>
<use class="r" href="#pf" transform="translate(974.5,1156) scale(1.03)"/>
</g>
<g class="o">
<use class="b" href="#snowo" transform="translate(435,1096) scale(.95)" style="stroke:none"/>
<use class="b" href="#drop" x="435" y="1152.5"/>
<use class="b" href="#lho" x="436" y="1208"/>
<use class="g" href="#tree" transform="translate(738.7,1100) scale(1.06)"/>
<use class="g" href="#flx" transform="translate(739,1155.5) scale(1.1)"/>
<use class="g" href="#fish" x="739.8" y="1199"/>
<use class="r" href="#to" transform="translate(1030.5,1096) scale(.95)"/>
<use class="r" href="#po" transform="translate(1030.5,1156) scale(1.05)"/>
</g>
<g fill="none" stroke="#000" stroke-width="1.6" stroke-dasharray="4 3">
<rect x="408" y="1056.8" width="55.8" height="158.8"/>
<rect x="711" y="1056.8" width="56.3" height="158.8"/>
<rect x="1001.8" y="1056.8" width="56.7" height="113.6"/>
<path d="M435.6,1215.6V1232H1046.6M738.7,1215.6V1232M1030.2,1170.4V1232"/>
</g>
<path d="M382,1215.6V1256H1044M683.4,1215.6V1256M979,1170.4V1256" fill="none" stroke="#000" stroke-width="1.6"/>

<g style="fill:#5ba5d0">
<text class="t" style="fill:inherit" x="472.4" y="1075" textLength="149.6" lengthAdjust="spacingAndGlyphs">Glaciers, snow, ice</text>
<text class="t" style="fill:inherit" x="472.4" y="1097" textLength="144.6" lengthAdjust="spacingAndGlyphs">and/or permafrost</text>
<text class="t" style="fill:inherit" x="472.4" y="1129.6" textLength="154.6" lengthAdjust="spacingAndGlyphs">Rivers, lakes, floods</text>
<text class="t" style="fill:inherit" x="472.4" y="1152" textLength="120.6" lengthAdjust="spacingAndGlyphs">and/or drought</text>
<text class="t" style="fill:inherit" x="472.4" y="1185.6" textLength="117" lengthAdjust="spacingAndGlyphs">Coastal erosion</text>
<text class="t" style="fill:inherit" x="472.4" y="1207.6" textLength="175.6" lengthAdjust="spacingAndGlyphs">and/or sea level effects</text>
</g>
<g style="fill:#74a63d">
<text class="t" style="fill:inherit" x="775" y="1076" textLength="79" lengthAdjust="spacingAndGlyphs">Terrestrial</text>
<text class="t" style="fill:inherit" x="775" y="1098" textLength="91" lengthAdjust="spacingAndGlyphs">ecosystems</text>
<text class="t" style="fill:inherit" x="775" y="1141.3" textLength="62.6" lengthAdjust="spacingAndGlyphs">Wildfire</text>
<text class="t" style="fill:inherit" x="775" y="1193" textLength="153.7" lengthAdjust="spacingAndGlyphs">Marine ecosystems</text>
</g>
<g style="fill:#b91c17">
<text class="t" style="fill:inherit" x="1066.5" y="1086" textLength="130.3" lengthAdjust="spacingAndGlyphs">Food production</text>
<text class="t" style="fill:inherit" x="1066.5" y="1129.6" textLength="149.3" lengthAdjust="spacingAndGlyphs">Livelihoods, health</text>
<text class="t" style="fill:inherit" x="1066.5" y="1152.5" textLength="141.8" lengthAdjust="spacingAndGlyphs">and/or economics</text>
</g>
<text class="s" x="1306.8" y="1094">*</text>
<text class="t" x="1321.7" y="1086" textLength="143.3" lengthAdjust="spacingAndGlyphs">Impacts identified</text>
<text class="t" x="1321" y="1108" textLength="165.9" lengthAdjust="spacingAndGlyphs">based on availability</text>
<text class="t" x="1321" y="1131" textLength="133.6" lengthAdjust="spacingAndGlyphs">of studies across</text>
<text class="t" x="1321" y="1153" textLength="65.4" lengthAdjust="spacingAndGlyphs">a region</text>
<text class="tb" x="1049" y="1239.5" textLength="171.7" lengthAdjust="spacingAndGlyphs">Outlined symbols =</text>
<text class="t" x="1228.2" y="1239.5" textLength="299" lengthAdjust="spacingAndGlyphs">Minor contribution of climate change</text>
<text class="tb" x="1049" y="1263.5" textLength="143" lengthAdjust="spacingAndGlyphs">Filled symbols =</text>
<text class="t" x="1196.8" y="1263.5" textLength="299" lengthAdjust="spacingAndGlyphs">Major contribution of climate change</text>
</svg>
</body></html>
